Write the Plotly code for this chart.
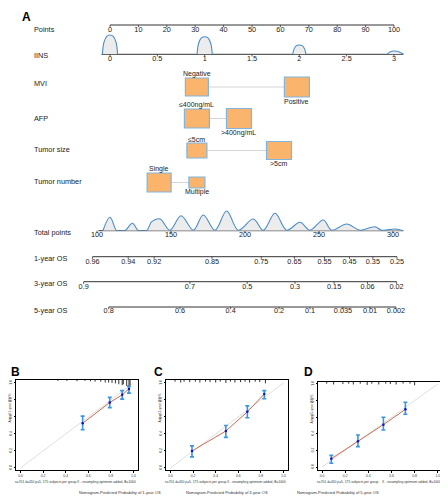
import plotly.graph_objects as go

# ------------------------------------------------------------------ data
points_ticks = [0, 10, 20, 30, 40, 50, 60, 70, 80, 90, 100]

iins_ticks = [0, 0.5, 1, 1.5, 2, 2.5, 3]
iins_tick_labels = ["0", "0.5", "1", "1.5", "2", "2.5", "3"]
iins_dens_x = [-0.08, -0.065, -0.035, 0.0, 0.035, 0.065, 0.08, None,
               0.92, 0.935, 0.965, 1.0, 1.035, 1.065, 1.08, None,
               1.93, 1.945, 1.97, 2.0, 2.03, 2.055, 2.07, None,
               2.93, 2.95, 2.98, 3.0, 3.03, 3.06, 3.1]
iins_dens_y = [0, 0.6, 0.93, 1.0, 0.93, 0.6, 0, None,
               0, 0.55, 0.85, 0.91, 0.85, 0.55, 0, None,
               0, 0.28, 0.45, 0.48, 0.45, 0.28, 0, None,
               0, 0.1, 0.16, 0.17, 0.16, 0.1, 0]

predictors = ["MVI", "AFP", "Tumor size", "Tumor number"]
pred_levels = [["Negative", "Positive"],
               ["≤400ng/mL", ">400ng/mL"],
               ["≤5cm", ">5cm"],
               ["Single", "Multiple"]]
pred_points = [[30.6, 65.8], [30.6, 45.4], [30.6, 59.5], [17.3, 30.6]]

total_ticks = [100, 150, 200, 250, 300]
# total-points density
tp_dens_x = [104, 108.8, 113.3, 116, 118.9, 123.9, 127.9, 131, 133.6, 137.0,
             142.6, 149.3, 156.8, 165.1, 171.8, 179.7, 187.6, 195.5, 205.6,
             212.4, 220.3, 228.2, 237.2, 243.9, 252.9, 258.6, 268.7, 277.7,
             287.8, 292.4, 301.4, 307]
tp_dens_y = [0, 13.4, 0, 0, 0, 7.4, 0, 0, 0, 9.0,
             11.7, 0.5, 15.0, 0.5, 15.7, 0.5, 19.7, 0.5, 11.7,
             0.5, 17.4, 0.5, 8.4, 0.5, 10.7, 0.5, 6.7, 0.5,
             4.0, 0.5, 1.7, 0]

os1_labels = ["0.96", "0.94", "0.92", "0.85", "0.75", "0.65", "0.55", "0.45", "0.35", "0.25"]
os1_at = [97.0, 121.1, 138.6, 177.7, 211.0, 233.4, 253.7, 270.6, 286.4, 302.7]
os3_labels = ["0.9", "0.7", "0.5", "0.3", "0.15", "0.06", "0.02"]
os3_at = [91.0, 162.8, 201.5, 233.8, 260.2, 282.8, 302.4]
os5_labels = ["0.8", "0.6", "0.4", "0.2", "0.1", "0.035", "0.01", "0.002"]
os5_at = [107.9, 156.1, 190.3, 223.0, 243.9, 266.2, 284.5, 302.0]

# calibration curves (predicted, observed, CI)
cal1_pred = [0.55, 0.79, 0.90, 0.96]
cal1_obs = [0.526, 0.77, 0.86, 0.93]
cal1_lo = [0.45, 0.71, 0.81, 0.88]
cal1_hi = [0.61, 0.83, 0.91, 0.96]

cal3_pred = [0.19, 0.49, 0.68, 0.83]
cal3_obs = [0.20, 0.435, 0.66, 0.87]
cal3_lo = [0.13, 0.36, 0.59, 0.815]
cal3_hi = [0.26, 0.50, 0.73, 0.91]

cal5_pred = [0.08, 0.31, 0.53, 0.72]
cal5_obs = [0.10, 0.31, 0.51, 0.695]
cal5_lo = [0.045, 0.245, 0.445, 0.635]
cal5_hi = [0.14, 0.385, 0.60, 0.78]

# spike histograms of predicted probabilities (top rug)
rug1_x = [0.33, 0.41, 0.50, 0.57, 0.62, 0.66, 0.71, 0.75, 0.78, 0.81, 0.84, 0.87, 0.90, 0.91, 0.94, 0.96, 0.97]
rug1_h = [0.01, 0.01, 0.015, 0.01, 0.015, 0.02, 0.02, 0.03, 0.03, 0.035, 0.04, 0.05, 0.06, 0.05, 0.07, 0.07, 0.06]
rug3_x = [0.04, 0.09, 0.12, 0.17, 0.22, 0.26, 0.31, 0.35, 0.40, 0.44, 0.49, 0.53, 0.57, 0.62, 0.66, 0.70, 0.75, 0.79, 0.84]
rug3_h = [0.02, 0.03, 0.02, 0.025, 0.02, 0.03, 0.02, 0.025, 0.03, 0.02, 0.035, 0.02, 0.03, 0.025, 0.02, 0.03, 0.02, 0.025, 0.04]
rug5_x = [0.04, 0.10, 0.18, 0.23, 0.27, 0.33, 0.39, 0.43, 0.49, 0.55, 0.59, 0.64, 0.70, 0.76, 0.80]
rug5_h = [0.02, 0.03, 0.025, 0.02, 0.03, 0.02, 0.035, 0.02, 0.03, 0.02, 0.025, 0.03, 0.02, 0.02, 0.04]

# ------------------------------------------------------------------ style / layout
# The page places the figure 8 px in from the window's top-left corner,
# so the figure is 440x492 and window pixels are converted with OFF.
WIN_W, WIN_H = 448, 500
OFF = 8
W, H = WIN_W - OFF, WIN_H - OFF
FONT = "Arial, 'Liberation Sans', Helvetica, sans-serif"
DENS_LINE = "#4a8cc9"
DENS_FILL = "#ececec"
BOX_FILL = "#fbb46b"
BOX_LINE = "#7fb6e0"
TXT = "#222222"
FS = 7.3


def px(xw):
    return (xw - OFF) / W


def py(yw):
    return 1 - (yw - OFF) / H


row_label_y = {"Points": 29, "IINS": 55, "MVI": 83, "AFP": 118, "Tumor size": 149,
               "Tumor number": 181, "Total points": 232, "1-year OS": 258.5,
               "3-year OS": 283.5, "5-year OS": 310}
pts_line_y = 25
iins_line_y = 54.3
pred_row_y = [87, 118.5, 150.5, 182.5]
box_sizes = [[(23, 18), (25, 20)], [(25, 19), (25, 20)], [(20, 15), (25, 18)], [(24, 19), (16, 11)]]
tp_line_y = 230.7
os_line_y = [256.7, 281.7, 307.0]

fig = go.Figure()

# axis helpers: x = Points scale, x2 = total points scale, x3 = IINS scale
px_per_pt = 2.84
x_range = [(OFF - 110) / px_per_pt, (WIN_W - 110) / px_per_pt]
px_per_tp = 1.48
x2_range = [100 + (OFF - 97) / px_per_tp, 100 + (WIN_W - 97) / px_per_tp]
x3_range = [x_range[0] * 0.03, x_range[1] * 0.03]


def add_axis(xref, ticks, labels, line_y, label_y, line_from=None, line_to=None):
    lo = ticks[0] if line_from is None else line_from
    hi = ticks[-1] if line_to is None else line_to
    fig.add_trace(go.Scatter(x=[lo, hi], y=[line_y, line_y], mode="lines",
                             line=dict(color="#333333", width=1), xaxis=xref, yaxis="y",
                             hoverinfo="skip", showlegend=False))
    tx, ty = [], []
    for t in ticks:
        tx += [t, t, None]
        ty += [line_y, line_y + 2.2, None]
    fig.add_trace(go.Scatter(x=tx, y=ty, mode="lines", line=dict(color="#333333", width=0.8),
                             xaxis=xref, yaxis="y", hoverinfo="skip", showlegend=False))
    fig.add_trace(go.Scatter(x=ticks, y=[label_y] * len(ticks), mode="text", text=labels,
                             textposition="middle center",
                             textfont=dict(family=FONT, size=FS, color=TXT),
                             xaxis=xref, yaxis="y", hoverinfo="skip", showlegend=False))


# Points axis
add_axis("x", points_ticks, [str(t) for t in points_ticks], pts_line_y, 30.5)

# IINS density + axis
fig.add_trace(go.Scatter(x=iins_dens_x, y=iins_dens_y, mode="lines", fill="tozeroy",
                         fillcolor=DENS_FILL, line=dict(color=DENS_LINE, width=1.1, shape="spline"),
                         xaxis="x3", yaxis="y2", hoverinfo="skip", showlegend=False))
add_axis("x3", iins_ticks, iins_tick_labels, iins_line_y, 58.8, line_from=-0.09, line_to=3.1)

# categorical predictors
for i, name in enumerate(predictors):
    yv = pred_row_y[i]
    p = pred_points[i]
    fig.add_trace(go.Scatter(x=[min(p) - 4, max(p)], y=[yv, yv], mode="lines",
                             line=dict(color="#d4d4d4", width=1), xaxis="x", yaxis="y",
                             hoverinfo="skip", showlegend=False))
    for j, val in enumerate(p):
        bw, bh = box_sizes[i][j]
        fig.add_shape(type="rect", xref="x", yref="y", xsizemode="pixel", ysizemode="pixel",
                      xanchor=val, yanchor=yv, x0=-bw / 2, x1=bw / 2, y0=-bh / 2, y1=bh / 2,
                      fillcolor=BOX_FILL, line=dict(color=BOX_LINE, width=1.2), layer="above")
        ly = yv - bh / 2 - 4 if j == 0 else yv + bh / 2 + 4
        fig.add_annotation(x=val, y=ly, xref="x", yref="y", text=pred_levels[i][j],
                           showarrow=False, font=dict(family=FONT, size=FS - 0.3, color=TXT),
                           xanchor="center", yanchor="middle")
    fig.add_trace(go.Scatter(x=p, y=[yv, yv], mode="markers",
                             marker=dict(color="black", size=2), xaxis="x", yaxis="y",
                             hoverinfo="skip", showlegend=False))

# Total points density + axis
fig.add_trace(go.Scatter(x=tp_dens_x, y=tp_dens_y, mode="lines", fill="tozeroy",
                         fillcolor=DENS_FILL, line=dict(color=DENS_LINE, width=1.1, shape="spline"),
                         xaxis="x2", yaxis="y3", hoverinfo="skip", showlegend=False))
add_axis("x2", total_ticks, [str(t) for t in total_ticks], tp_line_y, 235.5, line_from=101, line_to=307)

# OS axes
add_axis("x2", os1_at, os1_labels, os_line_y[0], 261.7)
add_axis("x2", os3_at, os3_labels, os_line_y[1], 286.7)
add_axis("x2", os5_at, os5_labels, os_line_y[2], 311.3)

# row labels
for name, yv in row_label_y.items():
    fig.add_annotation(x=px(32), y=yv, xref="paper", yref="y", text=name, showarrow=False,
                       xanchor="left", yanchor="middle",
                       font=dict(family=FONT, size=FS, color=TXT))

# ------------------------------------------------------------------ calibration panels
panels = [
    dict(xa="x4", ya="y4", pred=cal1_pred, obs=cal1_obs, lo=cal1_lo, hi=cal1_hi,
         rx=rug1_x, rh=rug1_h, yr="1", letter="B", left=16, right=138, top=380, bottom=470,
         xr=[-0.04, 1.04], yrng=[-0.024, 1.035], lx=8.5),
    dict(xa="x5", ya="y5", pred=cal3_pred, obs=cal3_obs, lo=cal3_lo, hi=cal3_hi,
         rx=rug3_x, rh=rug3_h, yr="3", letter="C", left=166, right=288, top=380, bottom=470,
         xr=[-0.04, 1.04], yrng=[-0.024, 1.035], lx=152),
    dict(xa="x6", ya="y6", pred=cal5_pred, obs=cal5_obs, lo=cal5_lo, hi=cal5_hi,
         rx=rug5_x, rh=rug5_h, yr="5", letter="D", left=318, right=443, top=382, bottom=470,
         xr=[-0.035, 1.045], yrng=[-0.036, 1.024], lx=302),
]

layout_axes = {}
for k, pnl in enumerate(panels):
    xa, ya = pnl["xa"], pnl["ya"]
    fig.add_trace(go.Scatter(x=[0, 1], y=[0, 1], mode="lines", line=dict(color="#d6d6d6", width=0.8),
                             xaxis=xa, yaxis=ya, hoverinfo="skip", showlegend=False))
    fig.add_trace(go.Scatter(x=pnl["pred"], y=pnl["obs"], mode="lines",
                             line=dict(color="#cd6a55", width=1),
                             xaxis=xa, yaxis=ya, hoverinfo="skip", showlegend=False))
    fig.add_trace(go.Scatter(
        x=pnl["pred"], y=pnl["obs"], mode="markers",
        marker=dict(color="#1010d0", size=2.5),
        error_y=dict(type="data", symmetric=False,
                     array=[h - o for h, o in zip(pnl["hi"], pnl["obs"])],
                     arrayminus=[o - l for o, l in zip(pnl["obs"], pnl["lo"])],
                     color="#3d95e0", thickness=1.6, width=2),
        xaxis=xa, yaxis=ya, hoverinfo="skip", showlegend=False))
    top = pnl["yrng"][1]
    rx, ry = [], []
    for v, h in zip(pnl["rx"], pnl["rh"]):
        rx += [v, v, None]
        ry += [top, top - h, None]
    fig.add_trace(go.Scatter(x=rx, y=ry, mode="lines", line=dict(color="black", width=0.8),
                             xaxis=xa, yaxis=ya, hoverinfo="skip", showlegend=False))

    xd = [px(pnl["left"]), px(pnl["right"])]
    yd = [py(pnl["bottom"]), py(pnl["top"])]
    common = dict(showline=True, linecolor="black", linewidth=1, mirror=True, showgrid=False,
                  zeroline=False, ticks="outside", ticklen=1.5, tickwidth=0.6, tickcolor="black",
                  tickfont=dict(family=FONT, size=3.4, color="#333"),
                  tickvals=[0, 0.2, 0.4, 0.6, 0.8, 1.0],
                  ticktext=["0.0", "0.2", "0.4", "0.6", "0.8", "1.0"])
    n = xa[1:]
    layout_axes["xaxis" + n] = dict(domain=xd, range=pnl["xr"], anchor=ya, **common)
    layout_axes["yaxis" + n] = dict(domain=yd, range=pnl["yrng"], anchor=xa, tickangle=-90, **common)

    cx = (pnl["left"] + pnl["right"]) / 2
    fig.add_annotation(x=px(pnl["lx"]), y=py(363), xref="paper", yref="paper",
                       text="<b>" + pnl["letter"] + "</b>", showarrow=False, xanchor="left",
                       yanchor="top", font=dict(family=FONT, size=12, color="black"))
    fig.add_annotation(x=px(pnl["left"] - 7), y=py((pnl["top"] + pnl["bottom"]) / 2),
                       xref="paper", yref="paper", text="Actual " + pnl["yr"] + "-year OS %",
                       textangle=-90, showarrow=False, xanchor="center",
                       font=dict(family=FONT, size=3.3, color="#333"))
    fig.add_annotation(x=px(pnl["left"] - 3), y=py(486), xref="paper", yref="paper",
                       text="n=701 d=410 p=5, 175 subjects per group", showarrow=False,
                       xanchor="left", font=dict(family=FONT, size=3.3, color="#333"))
    fig.add_annotation(x=px(pnl["right"]), y=py(486), xref="paper", yref="paper",
                       text="X - resampling optimism added, B=1000", showarrow=False,
                       xanchor="right", font=dict(family=FONT, size=3.3, color="#333"))
    fig.add_annotation(x=px(cx), y=py(496.5), xref="paper", yref="paper",
                       text="Nomogram-Predicted Probability of " + pnl["yr"] + "-year OS",
                       showarrow=False, font=dict(family=FONT, size=4.0, color="#333"))

# panel A letter
fig.add_annotation(x=px(20), y=py(8.5), xref="paper", yref="paper", text="<b>A</b>", showarrow=False,
                   xanchor="left", yanchor="top", font=dict(family=FONT, size=12, color="black"))

hidden = dict(visible=False, showgrid=False, zeroline=False)
fig.update_layout(
    width=W, height=H, margin=dict(l=0, r=0, t=0, b=0),
    paper_bgcolor="white", plot_bgcolor="rgba(0,0,0,0)", showlegend=False,
    xaxis=dict(domain=[0, 1], range=x_range, anchor="y", **hidden),
    xaxis2=dict(domain=[0, 1], range=x2_range, overlaying="x", anchor="y", **hidden),
    xaxis3=dict(domain=[0, 1], range=x3_range, overlaying="x", anchor="y2", **hidden),
    yaxis=dict(domain=[0, 1], range=[WIN_H, OFF], anchor="x", **hidden),
    yaxis2=dict(domain=[py(iins_line_y), py(iins_line_y - 23.2)], range=[0, 1.2],
                anchor="x3", **hidden),
    yaxis3=dict(domain=[py(tp_line_y), py(tp_line_y - 25)], range=[0, 25],
                anchor="x2", **hidden),
    **layout_axes,
)

fig.write_html("out.html")
